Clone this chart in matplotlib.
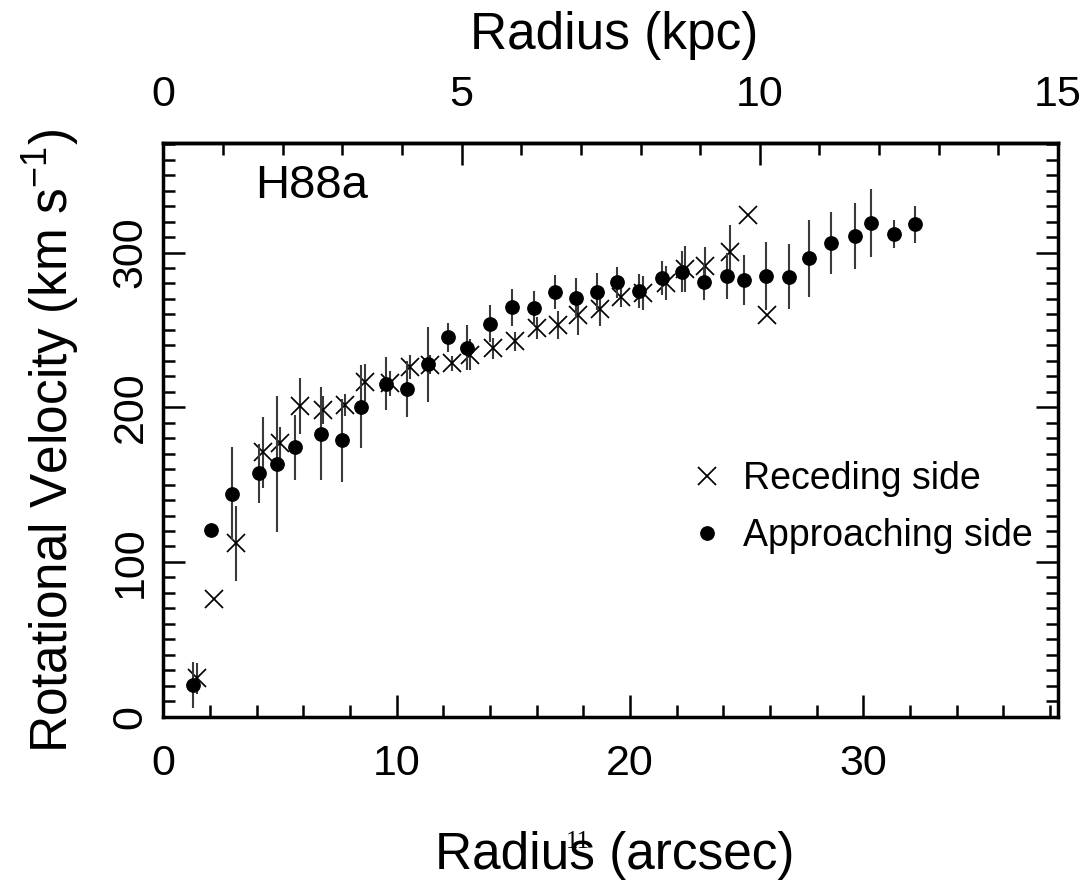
import matplotlib
matplotlib.use("Agg")
import matplotlib.pyplot as plt
from matplotlib import font_manager
from matplotlib.lines import Line2D
from matplotlib.ticker import MultipleLocator, FixedLocator

# ---------------- data ----------------
rec_r = [1.43, 2.17, 3.10, 4.26, 5.00, 5.84, 6.85, 7.77, 8.65, 9.72, 10.58, 11.45,
         12.36, 13.15, 14.13, 15.08, 16.03, 16.90, 17.78, 18.72, 19.60, 20.57,
         21.53, 22.36, 23.22, 24.29, 25.08, 25.88]
rec_v = [24.8, 75.9, 112, 171, 177, 201, 198, 201.5, 216, 215.5, 226, 227.5,
         228.4, 234, 238, 242.6, 251, 253, 259.7, 263.7, 271.5, 273.7,
         280.5, 289.2, 291.3, 300.6, 324.3, 259.7]
rec_e = [10, 0, 24, 23, 10, 18, 9, 7, 12, 8, 8, 6,
         5, 10, 7, 6, 7, 9, 13, 11, 7, 11,
         11, 15, 12, 17, 0, 0]

app_r = [1.29, 2.03, 2.93, 4.11, 4.86, 5.66, 6.74, 7.65, 8.47, 9.55, 10.46, 11.33,
         12.22, 13.02, 13.99, 14.94, 15.89, 16.78, 17.67, 18.57, 19.43, 20.40,
         21.39, 22.22, 23.18, 24.15, 24.89, 25.83, 26.81, 27.68, 28.62, 29.65,
         30.33, 31.33, 32.22]
app_v = [20.5, 120.5, 144, 157.3, 163.5, 174, 182.8, 178.5, 200.4, 215.3, 211.6, 227.7,
         245.2, 238.6, 254, 264.6, 264.2, 274.6, 270.6, 274.7, 280.8, 275.2,
         283.4, 287.7, 281.2, 284.9, 282.3, 285, 284.4, 296.3, 306.4, 310.7,
         318.9, 311.8, 318.3]
app_e = [15, 0, 30, 19, 44, 21, 30, 27, 27, 17, 18, 24,
         9.5, 14.5, 12, 12, 11, 11, 13, 12, 10, 11,
         11, 13, 12, 15, 16, 22, 21, 25, 20, 21.5,
         22, 9, 12]

series_labels = ["Receding side", "Approaching side"]
panel_label = "H88a"
x_label = "Radius (arcsec)"
x2_label = "Radius (kpc)"
y_label = r"Rotational Velocity (km s$^{-1}$)"

kpc_major_ticks = [0, 5, 10, 15]
kpc_minor_ticks = list(range(0, 16))

x_max_arcsec = 38.35
x_max_kpc = 15.0
y_max = 371

# ---------------- fonts ----------------
def has_font(name):
    try:
        font_manager.findfont(name, fallback_to_default=False)
        return True
    except Exception:
        return False

base = "Liberation Sans" if has_font("Liberation Sans") else "DejaVu Sans"
tick_size = 31
label_size = 37

plt.rcParams["font.family"] = [base, "DejaVu Sans"]
plt.rcParams["mathtext.fontset"] = "custom"
plt.rcParams["mathtext.rm"] = base
plt.rcParams["mathtext.it"] = base

# ---------------- figure ----------------
fig = plt.figure(figsize=(10.91, 8.80), dpi=100)
ax = fig.add_axes([0.1497, 0.1856, 0.8201, 0.6523])

ecol = "#3a3a3a"
ax.errorbar(rec_r, rec_v, yerr=rec_e, fmt="x", color="black", ms=13, mew=1.25,
            ecolor=ecol, elinewidth=1.5, capsize=0, zorder=3)
ax.errorbar(app_r, app_v, yerr=app_e, fmt="o", color="black", ms=9.6,
            ecolor=ecol, elinewidth=1.5, capsize=0, zorder=4)

ax.set_xlim(0, x_max_arcsec)
ax.set_ylim(0, y_max)

for s in ax.spines.values():
    s.set_linewidth(2.5)

ax.xaxis.set_major_locator(MultipleLocator(10))
ax.xaxis.set_minor_locator(MultipleLocator(2))
ax.yaxis.set_major_locator(MultipleLocator(100))
ax.yaxis.set_minor_locator(MultipleLocator(10))

ax.tick_params(which="both", direction="in", width=1.8, top=False, right=True,
               labelsize=tick_size)
ax.tick_params(which="major", length=16)
ax.tick_params(which="minor", length=8.5)
ax.tick_params(axis="x", pad=20)
ax.tick_params(axis="y", pad=9, labelrotation=90)
for lbl in ax.get_yticklabels():
    lbl.set_va("center")

# top axis in kpc
conv = x_max_kpc / x_max_arcsec
sec = ax.secondary_xaxis("top", functions=(lambda a: a * conv, lambda k: k / conv))
sec.xaxis.set_major_locator(FixedLocator(kpc_major_ticks))
sec.xaxis.set_minor_locator(FixedLocator(kpc_minor_ticks))
sec.tick_params(which="both", direction="in", width=1.8, labelsize=tick_size, pad=20)
sec.tick_params(which="major", length=16)
sec.tick_params(which="minor", length=8.5)
sec.spines["top"].set_linewidth(2.5)

# axis labels
ax.set_xlabel(x_label, fontsize=label_size, va="center")
ax.xaxis.set_label_coords(0.504, -0.241)
fig.text(614 / 1091, 1 - 36 / 880, x2_label, fontsize=label_size,
         ha="center", va="center")
ax.set_ylabel(y_label, fontsize=label_size, va="center")
ax.yaxis.set_label_coords(-0.125, 0.48)

# stray small glyph of the original
fig.text(578 / 1091, 1 - 842 / 880, "11", fontsize=18, ha="center", va="center",
         family=["Liberation Serif", "DejaVu Serif"])

# panel label
ax.text(0.103, 0.925, panel_label, transform=ax.transAxes, fontsize=34,
        ha="left", va="center")

# legend
handles = [Line2D([], [], ls="none", marker="x", color="black", ms=13, mew=1.25),
           Line2D([], [], ls="none", marker="o", color="black", ms=9.6)]
ax.legend(handles, series_labels, loc="center left", bbox_to_anchor=(0.587, 0.364),
          frameon=False, fontsize=27, handlelength=1.0, handletextpad=0.45,
          labelspacing=0.55, borderpad=0, borderaxespad=0)

fig.savefig("out.png", dpi=100)
